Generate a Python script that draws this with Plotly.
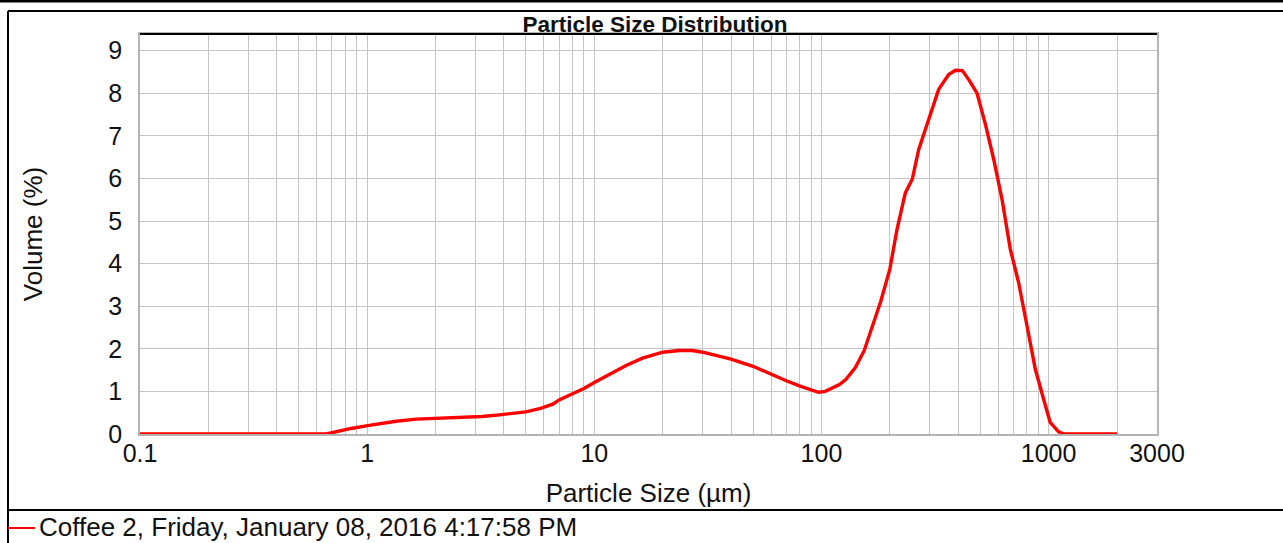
import plotly.graph_objects as go

# ---- data ----
size_um = [0.1, 0.3, 0.6, 0.66, 0.7, 0.77, 0.85, 0.99, 1.15, 1.34, 1.65, 2.0, 2.63, 3.2, 3.82,
           4.4, 5.0, 5.8, 6.57, 7.0, 8.0, 9.0, 10.0, 11.6, 13.8, 16.3, 20.0, 23.6, 27.0, 30.0,
           35.4, 40.0, 50.0, 60.0, 70.0, 80.0, 90.0, 97.0, 104.0, 111.0, 120.0, 128.0, 141.0,
           154.0, 167.0, 182.0, 200.0, 215.0, 234.0, 251.0, 268.0, 300.0, 328.0, 363.0, 389.0,
           417.0, 445.0, 484.0, 527.0, 573.0, 624.0, 678.0, 738.0, 803.0, 874.0, 950.0, 1016.0,
           1107.0, 1175.0, 1500.0, 2000.0]
volume_pct = [0.0, 0.0, 0.0, 0.0, 0.03, 0.08, 0.13, 0.19, 0.25, 0.3, 0.35, 0.37, 0.39, 0.41, 0.45,
              0.48, 0.52, 0.6, 0.7, 0.8, 0.94, 1.07, 1.21, 1.4, 1.61, 1.78, 1.92, 1.96, 1.96, 1.92,
              1.82, 1.76, 1.59, 1.4, 1.25, 1.13, 1.03, 0.98, 1.0, 1.07, 1.16, 1.28, 1.56,
              1.95, 2.5, 3.1, 3.87, 4.8, 5.66, 5.98, 6.68, 7.46, 8.09, 8.44, 8.54,
              8.53, 8.32, 8.0, 7.27, 6.45, 5.5, 4.34, 3.55, 2.54, 1.52, 0.82, 0.27,
              0.05, 0.0, 0.0, 0.0]
series_name = "Coffee 2, Friday, January 08, 2016 4:17:58 PM"
x_tick_vals = [0.1, 0.2, 0.3, 0.4, 0.5, 0.6, 0.7, 0.8, 0.9,
               1, 2, 3, 4, 5, 6, 7, 8, 9,
               10, 20, 30, 40, 50, 60, 70, 80, 90,
               100, 200, 300, 400, 500, 600, 700, 800, 900,
               1000, 2000, 3000]
x_labels = {0.1: "0.1", 1: "1", 10: "10", 100: "100", 1000: "1000", 3000: "3000"}
y_ticks = [0, 1, 2, 3, 4, 5, 6, 7, 8, 9]

FONT = "Liberation Sans, Arial, Helvetica, sans-serif"
W, H = 1283, 543
L, R, T, B = 140, 1157, 34, 434  # plot area pixels
LINE_RED = "#ff0000"

def px(xp):
    return (xp - L) / (R - L)

def py(yp):
    return (B - yp) / (B - T)

fig = go.Figure()
fig.add_trace(go.Scatter(
    x=size_um, y=volume_pct, mode="lines", name=series_name,
    line=dict(color=LINE_RED, width=3.4), showlegend=False,
))

grid = "#c4c4c4"
fig.update_xaxes(
    type="log", range=[-1, 3.4771], automargin=False,
    tickmode="array", tickvals=x_tick_vals,
    ticktext=[x_labels.get(v, "") for v in x_tick_vals],
    showgrid=True, gridcolor=grid, gridwidth=1,
    showline=True, linecolor="#b4b4b4", linewidth=1.5, mirror=True,
    ticks="", ticklabelstandoff=-4,
    tickfont=dict(family=FONT, size=25, color="#111"),
    title=dict(text="Particle Size (µm)", font=dict(family=FONT, size=26, color="#111"), standoff=18),
    zeroline=False,
)
fig.update_yaxes(
    range=[0, 9.39], automargin=False, tickmode="array", tickvals=y_ticks,
    showgrid=True, gridcolor=grid, gridwidth=1,
    showline=True, linecolor="#b4b4b4", linewidth=1.5, mirror=True,
    ticks="", ticklabelstandoff=11,
    tickfont=dict(family=FONT, size=25, color="#111"),
    title=dict(text="Volume (%)", font=dict(family=FONT, size=26, color="#111"), standoff=58),
    zeroline=False,
)

shapes = [
    # black top edge of plot area
    dict(type="line", xref="paper", yref="paper", x0=0, x1=1, y0=1, y1=1,
         line=dict(color="black", width=2)),
    # outer frame lines
    dict(type="line", xref="paper", yref="paper", x0=px(0), x1=px(W), y0=py(1), y1=py(1),
         line=dict(color="black", width=3)),
    dict(type="line", xref="paper", yref="paper", x0=px(8), x1=px(W), y0=py(11), y1=py(11),
         line=dict(color="black", width=2)),
    dict(type="line", xref="paper", yref="paper", x0=px(8), x1=px(8), y0=py(11), y1=py(H + 2),
         line=dict(color="black", width=2)),
    dict(type="line", xref="paper", yref="paper", x0=px(8), x1=px(W), y0=py(510), y1=py(510),
         line=dict(color="black", width=2)),
    # legend key
    dict(type="line", xref="paper", yref="paper", x0=px(8), x1=px(35), y0=py(528), y1=py(528),
         line=dict(color=LINE_RED, width=2)),
]

annotations = [
    dict(text=series_name, xref="paper", yref="paper", x=px(37), y=py(527),
         xanchor="left", yanchor="middle", showarrow=False,
         font=dict(family=FONT, size=26, color="#111")),
]

fig.update_layout(
    width=W, height=H,
    margin=dict(l=L, r=W - R, t=T, b=H - B),
    paper_bgcolor="white", plot_bgcolor="white",
    font=dict(family=FONT, color="#111"),
    title=dict(text="<b>Particle Size Distribution</b>", xref="container", x=655 / W,
               xanchor="center", yref="container", y=1 - 24 / H, yanchor="middle",
               font=dict(family=FONT, size=22.5, color="#111")),
    showlegend=False,
    hovermode=False,
    shapes=shapes,
    annotations=annotations,
)

fig.write_html("out.html",
               config={"displayModeBar": False},
               post_script="document.body.style.margin='0';document.body.style.overflow='hidden';")
